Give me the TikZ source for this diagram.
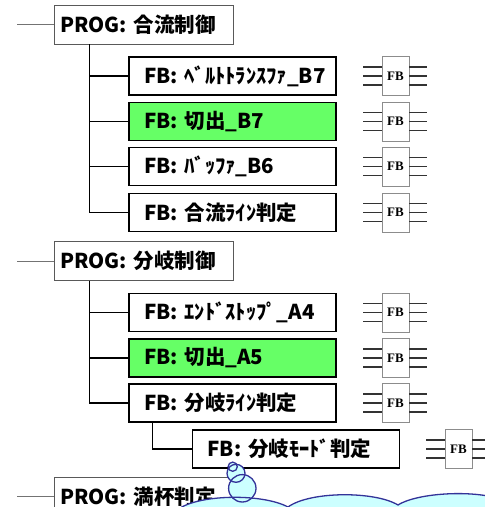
\documentclass[tikz,border=0pt]{standalone}
\usepackage{fontspec}
\setmainfont{Noto Sans CJK JP}
\newfontfamily\iconfont{Liberation Serif}
\usepackage{tikz}

\definecolor{selgreen}{RGB}{102,255,102}
\definecolor{calloutfill}{RGB}{204,255,255}
\definecolor{calloutline}{RGB}{51,51,153}

\tikzset{
  progbox/.style={draw=black!65, line width=0.9pt, fill=white,
    text width=167pt, inner xsep=6pt, inner ysep=0pt, minimum height=39pt,
    align=left, font=\fontsize{20.5}{20.5}\selectfont\bfseries},
  fbbox/.style={draw=black, line width=1.4pt, fill=white,
    text width=177pt, inner xsep=15pt, inner ysep=0pt, minimum height=38pt,
    align=left, font=\fontsize{20.5}{20.5}\selectfont\bfseries},
  fbsel/.style={fbbox, fill=selgreen},
  fbicon/.style={draw=black!45, line width=0.9pt, fill=white,
    minimum width=27pt, minimum height=39pt, inner sep=0pt,
    font=\iconfont\fontsize{13}{13}\selectfont\bfseries},
  pin/.style={black!80, line width=1.2pt},
  tree/.style={black, line width=1.2pt},
  stub/.style={black!55, line width=0.8pt},
  callout/.style={calloutline, line width=1.3pt},
}

\begin{document}
\begin{tikzpicture}[x=1pt,y=-1pt]
\useasboundingbox (0,0) rectangle (485,507);

% merge program
\node[progbox] (merge) at (143.5,24.5) {PROG: 合流制御};
\node[fbbox] (belt)  at (232.5,76)    {\mbox{FB: ﾍﾞﾙﾄﾄﾗﾝｽﾌｧ\_B7}};
\node[fbsel] (cutB)  at (232.5,121.5) {FB: 切出\_B7};
\node[fbbox] (bufB)  at (232.5,166.5) {FB: ﾊﾞｯﾌｧ\_B6};
\node[fbbox] (mline) at (232.5,212.5) {FB: 合流ﾗｲﾝ判定};
\draw[stub] (merge.west) -- ++(-37,0);
\foreach \n in {belt,cutB,bufB,mline}
  \draw[tree] ([xshift=36pt]merge.south west) |- (\n.west);

% branch program
\node[progbox] (branch) at (143.5,261) {PROG: 分岐制御};
\node[fbbox] (endA)  at (232.5,312.5) {\mbox{FB: ｴﾝﾄﾞｽﾄｯﾌﾟ\_A4}};
\node[fbsel] (cutA)  at (232.5,358)   {FB: 切出\_A5};
\node[fbbox] (bline) at (232.5,403)   {FB: 分岐ﾗｲﾝ判定};
\node[fbbox] (bmode) at (296,449)     {FB: 分岐ﾓｰﾄﾞ判定};
\draw[stub] (branch.west) -- ++(-37,0);
\foreach \n in {endA,cutA,bline}
  \draw[tree] ([xshift=36pt]branch.south west) |- (\n.west);
\draw[tree] ([xshift=24pt]bline.south west) |- (bmode.west);

% full program (runs off the page)
\node[progbox] (full) at (143.5,496.5) {PROG: 満杯判定};
\draw[stub] (full.west) -- ++(-37,0);

% block symbols
\foreach \n/\x/\y in {1/395.5/76, 2/395.5/121.5, 3/395.5/166.5, 4/395.5/212.5,
                      5/395.5/312.5, 6/395.5/358, 7/395.5/403, 8/458.5/449}{
  \node[fbicon] (icon\n) at (\x,\y) {FB};
  \foreach \d in {-9,0,9}{
    \draw[pin] ([yshift=\d pt]icon\n.west) -- ++(-19,0);
    \draw[pin] ([yshift=\d pt]icon\n.east) -- ++(18,0);
  }
}

% thought cloud
\fill[calloutfill] (176,511) .. controls (195,494) and (262,493) .. (288,507)
  .. controls (310,491) and (375,491) .. (398,505)
  .. controls (420,491) and (490,489) .. (510,504) -- (510,530) -- (176,530) -- cycle;
\foreach \cx/\cy/\r in {242.3/488.3/13.7, 236/473.3/9, 232.7/466.7/4.6}
  \fill[calloutfill] (\cx,\cy) circle[radius=\r];
\draw[callout] (176,511) .. controls (195,494) and (262,493) .. (288,507)
  .. controls (310,491) and (375,491) .. (398,505)
  .. controls (420,491) and (490,489) .. (510,504);
\foreach \cx/\cy/\r in {242.3/488.3/13.7, 236/473.3/9, 232.7/466.7/4.6}
  \draw[callout] (\cx,\cy) circle[radius=\r];

\end{tikzpicture}
\end{document}
